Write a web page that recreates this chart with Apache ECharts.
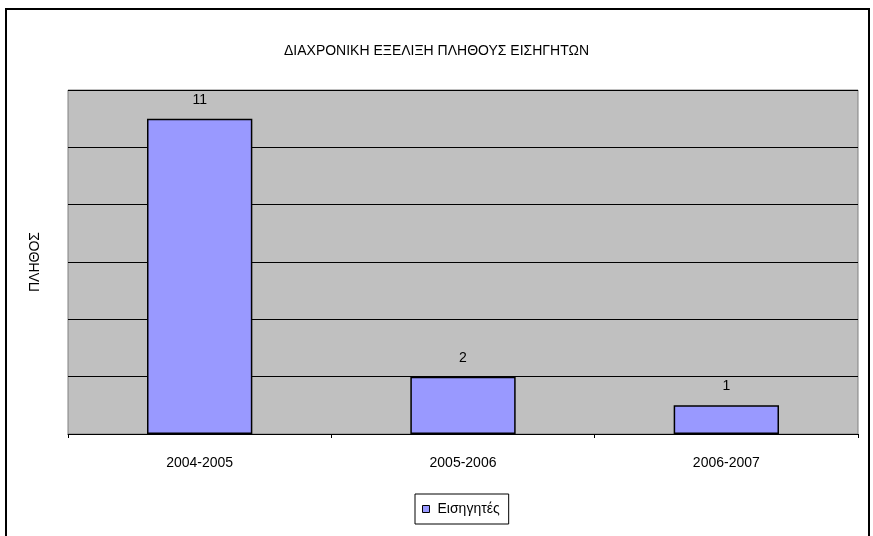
<!DOCTYPE html>
<html>
<head>
<meta charset="utf-8">
<script src="https://cdn.jsdelivr.net/npm/echarts@6/dist/echarts.min.js"></script>
<style>html,body{margin:0;padding:0;background:#fff}#c{width:873px;height:536px}</style>
</head>
<body>
<div id="c"></div>
<script>
const titleText = 'ΔΙΑΧΡΟΝΙΚΗ ΕΞΕΛΙΞΗ ΠΛΗΘΟΥΣ ΕΙΣΗΓΗΤΩΝ';
const yAxisName = 'ΠΛΗΘΟΣ';
const categories = ['2004-2005', '2005-2006', '2006-2007'];
const seriesName = 'Εισηγητές';
const values = [11, 2, 1];

const chart = echarts.init(document.getElementById('c'), null, {renderer: 'canvas'});
const font = "'Liberation Sans', Arial, sans-serif";
chart.setOption({
  animation: false,
  textStyle: {fontFamily: font},
  graphic: [{
    type: 'rect', silent: true, z: -10,
    shape: {x: 6, y: 9, width: 863, height: 540},
    style: {fill: 'none', stroke: '#000', lineWidth: 2}
  }],
  title: {
    text: titleText, left: 'center', top: 39,
    textStyle: {fontSize: 14, fontWeight: 'normal', color: '#000', fontFamily: font}
  },
  legend: {
    bottom: 12, left: 415,
    data: [{name: seriesName, icon: 'rect'}],
    itemWidth: 7, itemHeight: 7, itemGap: 5,
    borderColor: '#000', borderWidth: 1, padding: [8, 9, 8, 7],
    textStyle: {fontSize: 14, color: '#000', fontFamily: font, padding: [0, 0, 0, 3]},
    itemStyle: {borderColor: '#000', borderWidth: 1}
  },
  grid: {
    left: 68, right: 15, top: 90, bottom: 102,
    show: true, backgroundColor: '#C0C0C0', borderColor: '#808080', borderWidth: 1
  },
  xAxis: {
    type: 'category', data: categories,
    axisLine: {show: true, lineStyle: {color: '#000', width: 1}},
    axisTick: {show: true, length: 4, lineStyle: {color: '#000'}},
    axisLabel: {fontSize: 14, color: '#000', margin: 22, fontFamily: font}
  },
  yAxis: {
    type: 'value', min: 0, max: 12, interval: 2,
    name: yAxisName, nameLocation: 'middle', nameGap: 26, nameRotate: 90,
    nameTextStyle: {fontSize: 14, color: '#000', fontFamily: font},
    axisLine: {show: false}, axisTick: {show: false}, axisLabel: {show: false},
    splitLine: {show: true, lineStyle: {color: '#000', width: 1}}
  },
  series: [{
    name: seriesName, type: 'bar', data: values,
    barWidth: '40%',
    itemStyle: {color: '#9999FF', borderColor: '#000', borderWidth: 1.5},
    label: {show: true, position: 'top', distance: 12, fontSize: 14, color: '#000', fontFamily: font}
  }]
});
</script>
</body>
</html>
